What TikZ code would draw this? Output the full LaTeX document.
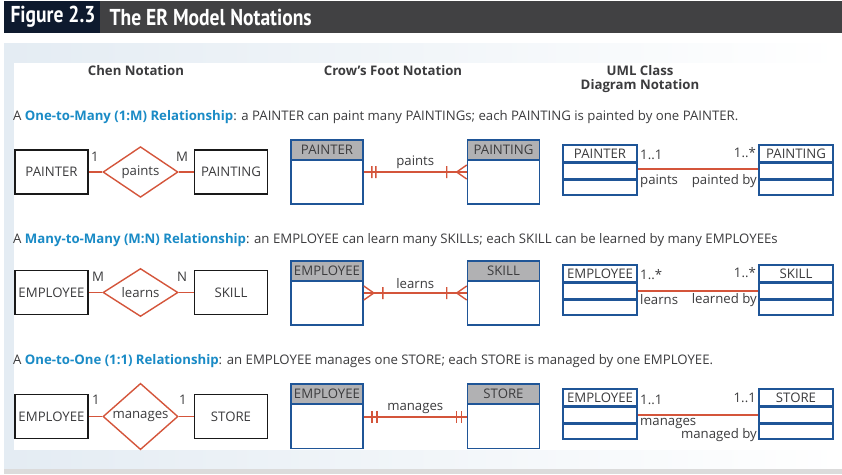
\documentclass[tikz,border=0pt]{standalone}
\usepackage{fontspec}
\setmainfont{Open Sans}
\newfontfamily\titlefont[FakeStretch=0.85]{PT Sans}
\usepackage{xcolor}
\usetikzlibrary{shapes, positioning}

\definecolor{erred}{HTML}{D4553B}
\definecolor{erblue}{HTML}{1F5597}
\definecolor{ergray}{HTML}{B1B1B3}
\definecolor{ertext}{HTML}{3C3C3E}
\definecolor{erlink}{HTML}{1A8BC6}
\definecolor{barnavy}{HTML}{0E1A2E}
\definecolor{bardark}{HTML}{414143}
\definecolor{panel}{HTML}{E4ECF3}

\newcommand{\erfont}{\fontsize{13.2}{15.5}\selectfont}

\tikzset{
  chen/.style={rectangle, draw=black!90, line width=1.4pt, minimum width=73pt, minimum height=44pt, inner sep=0pt, text=ertext},
  rel/.style={diamond, draw=erred, line width=1.4pt, minimum width=75pt, minimum height=43pt, inner sep=0pt, text=ertext},
  crowhead/.style={rectangle, draw=erblue, line width=1.6pt, fill=ergray, minimum width=72pt, minimum height=20pt, inner sep=0pt, text=ertext},
  crowbody/.style={rectangle, draw=erblue, line width=1.6pt, minimum width=72pt, minimum height=44pt, inner sep=0pt},
  umlhead/.style={rectangle, draw=erblue, line width=1.6pt, minimum width=74pt, minimum height=17pt, inner sep=0pt, text=ertext},
  umlpart/.style={rectangle, draw=erblue, line width=1.6pt, minimum width=74pt, minimum height=15pt, inner sep=0pt},
  link/.style={draw=erred, line width=1.4pt},
  card/.style={text=ertext, inner sep=0pt},
  say/.style={text=ertext, inner sep=0pt, anchor=west},
}

\begin{document}
\begin{tikzpicture}[x=1pt, y=-1pt, font=\erfont]
        \useasboundingbox (0,0) rectangle (842,474);
        % title bar and panel
        \fill[bardark] (4,1) rectangle (842,33);
        \fill[barnavy] (4,1) rectangle (100,33);
        \node[text=white, font=\titlefont\bfseries\fontsize{23}{26}\selectfont] (fig) at (53,17) {Figure 2.3};
        \node[text=white, font=\titlefont\bfseries\fontsize{23}{26}\selectfont, anchor=west] (title) at (106,17) {The ER Model Notations};
        \fill[black!14] (4,466) rectangle (842,474);
        \shade[left color=panel, right color=white] (4,43) rectangle (842,468);
        \fill[white] (14,63) rectangle (842,450);

        % column heads
        \node[text=ertext, font=\erfont\bfseries] (h1) at (136,71) {Chen Notation};
        \node[text=ertext, font=\erfont\bfseries] (h2) at (393,71) {Crow’s Foot Notation};
        \node[text=ertext, font=\erfont\bfseries, align=center] (h3) at (640,79) {UML Class\\[-1pt]Diagram Notation};

        % 1:M
        \node[say] (s1) at (13,117) {A \textcolor{erlink}{\bfseries One-to-Many (1:M) Relationship}: a PAINTER can paint many PAINTINGs; each PAINTING is painted by one PAINTER.};

        \node[chen] (painter) at (51.5,172) {PAINTER};
        \node[rel] (paints) at (140.5,172) {paints};
        \node[chen] (painting) at (231,172) {PAINTING};
        \node[card] (pc1) at (95,157) {1};
        \node[card] (pc2) at (182,157) {M};
        \draw[link] (painter) to (paints)
            (paints) to (painting);

        \node[crowhead] (cpainterh) at (327,150) {PAINTER};
        \node[crowbody] (cpainter) at (327,182) {};
        \node[crowhead] (cpaintingh) at (503.5,150) {PAINTING};
        \node[crowbody] (cpainting) at (503.5,182) {};
        \coordinate (cl1) at ([yshift=10pt]cpainter.east);
        \coordinate (cr1) at ([yshift=10pt]cpainting.west);
        \draw[link] (cl1) to node[card, above=2.5pt] (cpaints) {paints} (cr1);
        \draw[link] ([xshift=8pt]cl1) ++(0,-6) -- ++(0,12)
            ([xshift=12pt]cl1) ++(0,-6) -- ++(0,12)
            ([xshift=-20pt]cr1) ++(0,-6) -- ++(0,12)
            ([xshift=-10pt]cr1) -- ([yshift=7pt]cr1)
            ([xshift=-10pt]cr1) -- ([yshift=-7pt]cr1);

        \node[umlhead] (upainter) at (600,153.5) {PAINTER};
        \node[umlpart, below=0pt of upainter] (upainter1) {};
        \node[umlpart, below=0pt of upainter1] (upainter2) {};
        \node[umlhead] (upainting) at (796,153.5) {PAINTING};
        \node[umlpart, below=0pt of upainting] (upainting1) {};
        \node[umlpart, below=0pt of upainting1] (upainting2) {};
        \draw[link] ([yshift=2pt]upainter1.east) to ([yshift=2pt]upainting1.west);
        \node[card, anchor=west] (um1) at (640,155) {1..1};
        \node[card, anchor=east] (um2) at (756,153) {1..*};
        \node[card, anchor=west] (ur1) at (640,181) {paints};
        \node[card, anchor=east] (ur2) at (757,181) {painted by};

        % M:N
        \node[say] (s2) at (13,240) {A \textcolor{erlink}{\bfseries Many-to-Many (M:N) Relationship}: an EMPLOYEE can learn many SKILLs; each SKILL can be learned by many EMPLOYEEs};

        \node[chen] (employee) at (51.5,292.5) {EMPLOYEE};
        \node[rel] (learns) at (140.5,292.5) {learns};
        \node[chen] (skill) at (231,292.5) {SKILL};
        \node[card] (lc1) at (98,277) {M};
        \node[card] (lc2) at (182,277) {N};
        \draw[link] (employee) to (learns)
            (learns) to (skill);

        \node[crowhead] (cemployeeh) at (327,271) {EMPLOYEE};
        \node[crowbody] (cemployee) at (327,303) {};
        \node[crowhead] (cskillh) at (503.5,271) {SKILL};
        \node[crowbody] (cskill) at (503.5,303) {};
        \coordinate (cl2) at ([yshift=10pt]cemployee.east);
        \coordinate (cr2) at ([yshift=10pt]cskill.west);
        \draw[link] (cl2) to node[card, above=3.5pt] (clearns) {learns} (cr2);
        \draw[link] ([xshift=10pt]cl2) -- ([yshift=7pt]cl2)
            ([xshift=10pt]cl2) -- ([yshift=-7pt]cl2)
            ([xshift=19pt]cl2) ++(0,-6) -- ++(0,12)
            ([xshift=-20pt]cr2) ++(0,-6) -- ++(0,12)
            ([xshift=-10pt]cr2) -- ([yshift=7pt]cr2)
            ([xshift=-10pt]cr2) -- ([yshift=-7pt]cr2);

        \node[umlhead] (uemployee) at (600,273.5) {EMPLOYEE};
        \node[umlpart, below=0pt of uemployee] (uemployee1) {};
        \node[umlpart, below=0pt of uemployee1] (uemployee2) {};
        \node[umlhead] (uskill) at (796,273.5) {SKILL};
        \node[umlpart, below=0pt of uskill] (uskill1) {};
        \node[umlpart, below=0pt of uskill1] (uskill2) {};
        \draw[link] (uemployee1.east) to (uskill1.west);
        \node[card, anchor=west] (ul1) at (640,275) {1..*};
        \node[card, anchor=east] (ul2) at (756,273) {1..*};
        \node[card, anchor=west] (uw1) at (640,300) {learns};
        \node[card, anchor=east] (uw2) at (757,300) {learned by};

        % 1:1
        \node[say] (s3) at (13,361) {A \textcolor{erlink}{\bfseries One-to-One (1:1) Relationship}: an EMPLOYEE manages one STORE; each STORE is managed by one EMPLOYEE.};

        \node[chen] (manager) at (51.5,416.5) {EMPLOYEE};
        \node[rel] (manages) at (140.5,416.5) {manages};
        \node[chen] (store) at (231,416.5) {STORE};
        \node[card] (mc1) at (96,400) {1};
        \node[card] (mc2) at (183,400) {1};
        \draw[link] (manager) to (manages)
            (manages) to (store);

        \node[crowhead] (cmanagerh) at (327,394) {EMPLOYEE};
        \node[crowbody] (cmanager) at (327,426.5) {};
        \node[crowhead] (cstoreh) at (503.5,394) {STORE};
        \node[crowbody] (cstore) at (503.5,426.5) {};
        \coordinate (cl3) at ([yshift=9.5pt]cmanager.east);
        \coordinate (cr3) at ([yshift=9.5pt]cstore.west);
        \draw[link] (cl3) to node[card, above=3pt] (cmanages) {manages} (cr3);
        \draw[link] ([xshift=8pt]cl3) ++(0,-6) -- ++(0,12)
            ([xshift=13pt]cl3) ++(0,-6) -- ++(0,12)
            ([xshift=-10pt]cr3) ++(0,-6) -- ++(0,12)
            ([xshift=-5pt]cr3) ++(0,-6) -- ++(0,12);

        \node[umlhead] (umanager) at (600,397.5) {EMPLOYEE};
        \node[umlpart, below=0pt of umanager] (umanager1) {};
        \node[umlpart, below=0pt of umanager1] (umanager2) {};
        \node[umlhead] (ustore) at (796,397.5) {STORE};
        \node[umlpart, below=0pt of ustore] (ustore1) {};
        \node[umlpart, below=0pt of ustore1] (ustore2) {};
        \draw[link] (umanager1.east) to (ustore1.west);
        \node[card, anchor=west] (us1) at (640,400) {1..1};
        \node[card, anchor=east] (us2) at (756,398) {1..1};
        \node[card, anchor=west] (um3) at (640,423) {manages};
        \node[card, anchor=east] (um4) at (757,435) {managed by};
    \end{tikzpicture}
\end{document}
